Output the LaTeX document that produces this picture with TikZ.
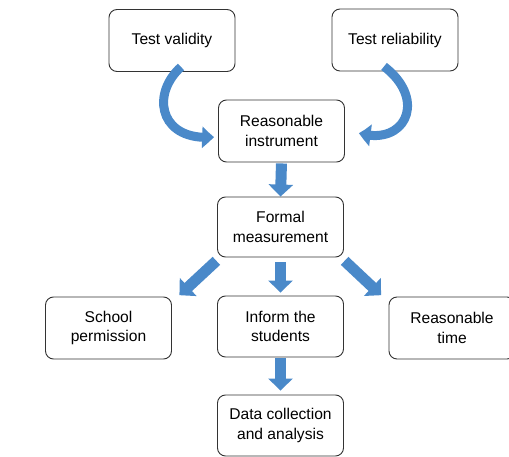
\documentclass[tikz,border=0pt]{standalone}
\usepackage{fontspec}
\setmainfont{Liberation Sans}
\usetikzlibrary{arrows.meta,bending}
\definecolor{arrowblue}{HTML}{4A89C9}
\definecolor{boxline}{HTML}{333333}
\tikzset{
  box/.style={draw=boxline, line width=0.9pt, rounded corners=8pt, fill=white,
    minimum width=126pt, minimum height=62pt, align=center,
    font=\fontsize{15.6}{19.5}\selectfont, inner sep=2pt},
  blockarrow/.style={draw=arrowblue, line width=11pt,
    -{Triangle[width=24pt,length=12pt]}},
  curvearrow/.style={draw=arrowblue, line width=9pt,
    -{Triangle[width=21pt,length=12pt,bend]}}
}
\begin{document}
\begin{tikzpicture}[x=1pt,y=-1pt]
\useasboundingbox (0,0) rectangle (509,457);
\clip (0,0) rectangle (509,457);
\node[box] (validity) at (172,40.5) {Test validity};
\node[box] (reliability) at (395,40) {Test reliability};
\node[box] (instrument) at (281.5,131) {Reasonable\\instrument};
\node[box, minimum height=60pt] (formal) at (280.5,227) {Formal\\measurement};
\node[box] (school) at (108.5,328) {School\\permission};
\node[box, minimum height=61pt] (inform) at (280.5,326.5) {Inform the\\students};
\node[box] (time) at (452,328) {Reasonable\\time};
\node[box, minimum height=61pt] (data) at (280.5,425.5) {Data collection\\and analysis};

\draw[blockarrow, shorten <=1pt] (instrument.south) -- (formal.north);
\draw[blockarrow, shorten <=5pt, shorten >=3pt] (formal.south) -- (inform.north);
\draw[blockarrow, shorten <=1pt, shorten >=4pt] (inform.south) -- (data.north);
\draw[blockarrow, shorten <=5pt, shorten >=2pt] ([xshift=3pt]formal.south west) -- ([xshift=6pt]school.north east);
\draw[blockarrow, shorten <=5pt, shorten >=2pt] ([xshift=-3pt]formal.south east) -- ([xshift=-6pt]time.north west);

\draw[curvearrow] ([xshift=9pt,yshift=5pt]validity.south) .. controls (150,95) and (160,142) .. ([xshift=-4pt,yshift=-6pt]instrument.west);
\draw[curvearrow] ([xshift=-11pt,yshift=5pt]reliability.south) .. controls (428,100) and (405,147) .. ([xshift=14pt,yshift=-2pt]instrument.east);
\end{tikzpicture}
\end{document}
